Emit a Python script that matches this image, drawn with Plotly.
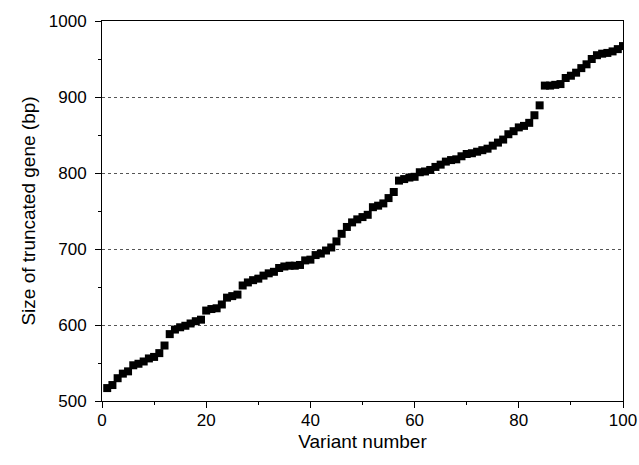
import plotly.graph_objects as go

variant = list(range(1, 101))
size_bp = [517, 521, 530, 536, 539, 547, 549, 552, 556, 558,
           563, 573, 588, 594, 597, 599, 602, 605, 607, 619,
           621, 622, 627, 636, 638, 640, 652, 656, 659, 661,
           665, 668, 670, 675, 677, 678, 678, 679, 685, 686,
           692, 694, 698, 702, 710, 720, 729, 735, 739, 742,
           745, 755, 757, 760, 767, 775, 790, 792, 794, 795,
           801, 802, 804, 808, 811, 815, 817, 818, 822, 825,
           826, 828, 830, 832, 836, 840, 844, 851, 855, 860,
           862, 866, 876, 889, 915, 915, 916, 917, 925, 928,
           932, 938, 943, 950, 955, 957, 958, 960, 963, 967]

fig = go.Figure(go.Scatter(
    x=variant, y=size_bp, mode="markers",
    marker=dict(symbol="square", size=8, color="black", line=dict(width=0)),
))

font = dict(family="Liberation Sans, Arial, sans-serif", size=17, color="black")
fig.update_layout(
    width=639, height=465,
    margin=dict(l=102, r=16, t=21, b=64),
    plot_bgcolor="white", paper_bgcolor="white",
    showlegend=False, font=font,
)
fig.update_xaxes(
    range=[0, 100], tickvals=[0, 20, 40, 60, 80, 100],
    ticks="outside", ticklen=6, tickcolor="black", ticklabelstandoff=-2,
    minor=dict(tickvals=[10, 30, 50, 70, 90], ticks="outside", ticklen=3, tickcolor="black"),
    showline=True, linecolor="black", linewidth=1, mirror=True,
    showgrid=False, zeroline=False, automargin=False,
    title=dict(text="Variant number", font=dict(size=19), standoff=5),
)
fig.update_yaxes(
    range=[500, 1000], tickvals=[500, 600, 700, 800, 900, 1000],
    ticks="outside", ticklen=6, tickcolor="black", ticklabelstandoff=5,
    minor=dict(tickvals=[550, 650, 750, 850, 950], ticks="outside", ticklen=3, tickcolor="black",
               showgrid=False),
    showline=True, linecolor="black", linewidth=1, mirror=True,
    showgrid=True, gridcolor="#555555", griddash="dot", gridwidth=1,
    zeroline=False, automargin=False,
    title=dict(text="Size of truncated gene (bp)", font=dict(size=19), standoff=8),
)
fig.write_html("out.html", config={"displayModeBar": False},
               post_script="document.body.style.margin='0';")
